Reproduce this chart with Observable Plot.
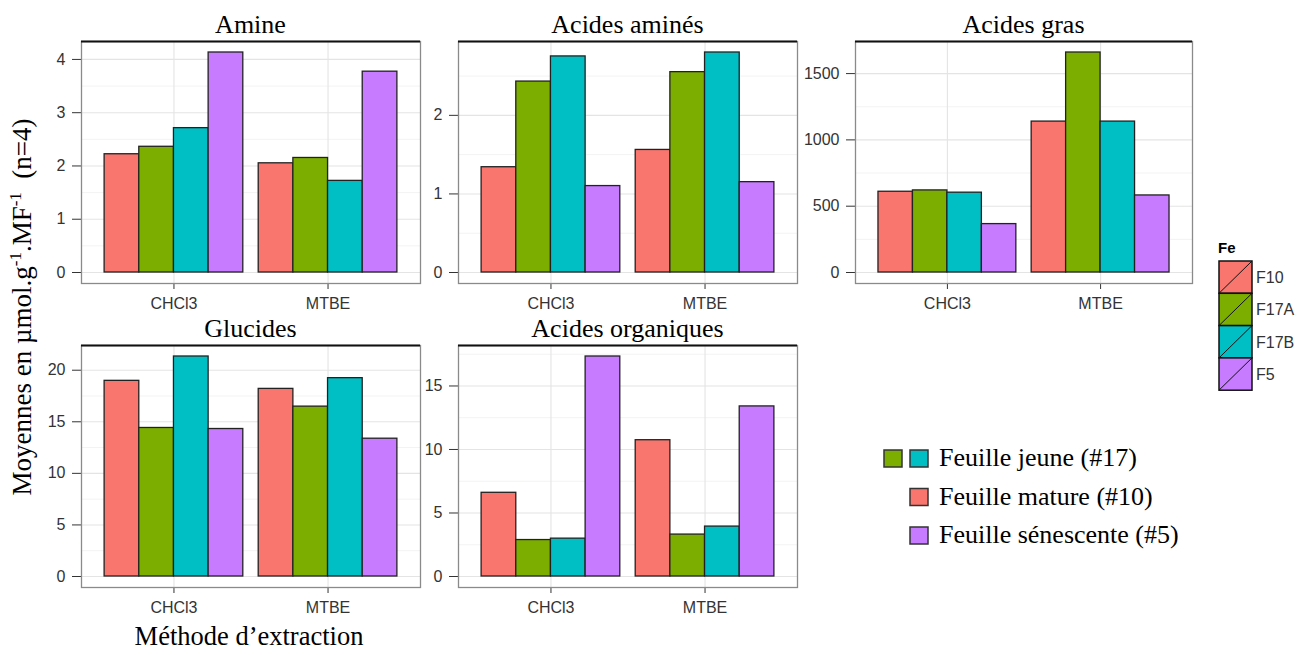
<!DOCTYPE html>
<html>
<head>
<meta charset="utf-8">
<script src="https://cdn.jsdelivr.net/npm/d3@7"></script>
<script src="https://cdn.jsdelivr.net/npm/@observablehq/plot@0.6"></script>
<style>
  html, body { margin: 0; padding: 0; background: #fff; }
  #root { position: relative; width: 1297px; height: 655px; overflow: hidden; background: #fff; }
  #root > svg { position: absolute; }
</style>
</head>
<body>
<div id="root"></div>
<script>
// ---- data ----
const methods = ["CHCl3", "MTBE"];
const groups = ["F10", "F17A", "F17B", "F5"];
const colors = ["#F8766D", "#7CAE00", "#00BFC4", "#C77CFF"];
const panelNames = ["Amine", "Acides aminés", "Acides gras", "Glucides", "Acides organiques"];
// values: CHCl3 (F10, F17A, F17B, F5), then MTBE (F10, F17A, F17B, F5)
const amine = [2.22, 2.36, 2.71, 4.13, 2.05, 2.15, 1.72, 3.77];
const acidesAmines = [1.34, 2.43, 2.75, 1.10, 1.56, 2.55, 2.80, 1.15];
const acidesGras = [609, 619, 602, 365, 1138, 1659, 1138, 581];
const glucides = [18.97, 14.4, 21.33, 14.3, 18.19, 16.47, 19.23, 13.36];
const acidesOrganiques = [6.59, 2.87, 2.98, 17.32, 10.73, 3.30, 3.93, 13.39];
// tick labels
const amineTicks = [0, 1, 2, 3, 4];
const acidesAminesTicks = [0, 1, 2];
const acidesGrasTicks = [0, 500, 1000, 1500];
const glucidesTicks = [0, 5, 10, 15, 20];
const acidesOrganiquesTicks = [0, 5, 10, 15];
// legends
const stageLabels = ["Feuille jeune (#17)", "Feuille mature (#10)", "Feuille sénescente (#5)"];
const stageGroups = [["F17A", "F17B"], ["F10"], ["F5"]];
const yTitle = ["Moyennes en µmol.g", "-1", ".MF", "-1", "\u00a0 (n=4)"];
const xTitle = "Méthode d’extraction";
const legendTitle = "Fe";

const color = d3.scaleOrdinal(groups, colors);
const root = document.getElementById("root");
const serif = "'Liberation Serif', 'Times New Roman', serif";
const sans = "'Liberation Sans', Arial, sans-serif";

const ml = 60, mt = 10, mr = 6, mb = 40;
const boxes = [
  {L: 81, T: 41, W: 339, H: 242},
  {L: 458, T: 41, W: 339, H: 242},
  {L: 855, T: 41, W: 337, H: 242},
  {L: 81, T: 345, W: 339, H: 242},
  {L: 458, T: 345, W: 339, H: 242}
];
const series = [amine, acidesAmines, acidesGras, glucides, acidesOrganiques];
const tickSets = [amineTicks, acidesAminesTicks, acidesGrasTicks, glucidesTicks, acidesOrganiquesTicks];

// overlay for titles & legends
const ov = d3.select(root).append("svg")
  .attr("width", 1297).attr("height", 655).style("left", "0px").style("top", "0px");

series.forEach((values, k) => {
  const box = boxes[k];
  const ticks = tickSets[k];
  const data = [];
  methods.forEach((m, i) => groups.forEach((g, j) => data.push({m, g, i, j, v: values[i * 4 + j]})));
  const max = d3.max(values);
  const yDomain = [-0.05 * max, 1.05 * max];
  const step = ticks[1] - ticks[0];
  const minor = d3.range(ticks[0] - step / 2, yDomain[1], step).filter(t => t >= yDomain[0] && t <= yDomain[1]);
  const plot = Plot.plot({
    width: box.W + ml + mr,
    height: box.H + mt + mb,
    marginLeft: ml, marginRight: mr, marginTop: mt, marginBottom: mb,
    style: {fontFamily: sans, fontSize: "16px", color: "#333", background: "transparent", overflow: "visible"},
    x: {domain: [0.4, 2.6], ticks: [1, 2], tickFormat: d => methods[d - 1], label: null, tickSize: 6, tickPadding: 8},
    y: {domain: yDomain, ticks: ticks, tickFormat: d => String(d), label: null, tickSize: 9, tickPadding: 7},
    color: {domain: groups, range: colors},
    marks: [
      Plot.ruleY(minor, {stroke: "#f3f3f3", strokeWidth: 1}),
      Plot.ruleY(ticks, {stroke: "#e4e4e4", strokeWidth: 1.1}),
      Plot.ruleX([1, 2], {stroke: "#e4e4e4", strokeWidth: 1.1}),
      Plot.rectY(data, {
        x1: d => d.i + 1 - 0.45 + d.j * 0.225,
        x2: d => d.i + 1 - 0.45 + (d.j + 1) * 0.225,
        y1: 0, y2: "v", fill: "g", stroke: "#222", strokeWidth: 1.3
      }),
      Plot.frame({stroke: "#8a8a8a", strokeWidth: 1.3}),
      Plot.ruleY([yDomain[1]], {stroke: "#111", strokeWidth: 1.8})
    ]
  });
  plot.style.left = (box.L - ml) + "px";
  plot.style.top = (box.T - mt) + "px";
  root.appendChild(plot);

  ov.append("text").text(panelNames[k])
    .attr("x", box.L + box.W / 2).attr("y", box.T - 8)
    .attr("text-anchor", "middle").attr("font-family", serif).attr("font-size", 26).attr("fill", "#000");
});

// y-axis title
const yt = ov.append("text").attr("transform", "translate(31,307) rotate(-90)")
  .attr("text-anchor", "middle").attr("font-family", serif).attr("font-size", 27).attr("fill", "#000");
yTitle.forEach((s, i) => {
  const sup = i % 2 === 1;
  yt.append("tspan").text(s)
    .attr("font-size", sup ? 17 : 27)
    .attr("dy", sup ? -10 : (i > 0 ? 10 : 0));
});

// x-axis title
ov.append("text").text(xTitle).attr("x", 249).attr("y", 645)
  .attr("text-anchor", "middle").attr("font-family", serif).attr("font-size", 26.5).attr("fill", "#000");

// Fe legend
ov.append("text").text(legendTitle).attr("x", 1218).attr("y", 253)
  .attr("font-family", sans).attr("font-size", 15).attr("font-weight", "bold").attr("fill", "#000");
const keyH = 32.3, keyW = 33, keyX = 1219, keyY = 261;
groups.forEach((g, i) => {
  const y = keyY + i * keyH;
  ov.append("rect").attr("x", keyX).attr("y", y).attr("width", keyW).attr("height", keyH)
    .attr("fill", color(g)).attr("stroke", "#111").attr("stroke-width", 1.5);
  ov.append("line").attr("x1", keyX).attr("y1", y + keyH).attr("x2", keyX + keyW).attr("y2", y)
    .attr("stroke", "#111").attr("stroke-width", 1);
  ov.append("text").text(g).attr("x", keyX + keyW + 4).attr("y", y + keyH / 2 + 6)
    .attr("font-family", sans).attr("font-size", 16).attr("fill", "#333");
});

// stage legend
stageLabels.forEach((lab, r) => {
  const cy = 458.5 + r * 38.5;
  const gs = stageGroups[r];
  gs.forEach((g, k) => {
    const x = 910 - (gs.length - 1 - k) * 26;
    ov.append("rect").attr("x", x).attr("y", cy - 8.5).attr("width", 18).attr("height", 17)
      .attr("fill", color(g)).attr("stroke", "#333").attr("stroke-width", 1.5);
  });
  ov.append("text").text(lab).attr("x", 939).attr("y", cy + 7.5)
    .attr("font-family", serif).attr("font-size", 26).attr("fill", "#000");
});
</script>
</body>
</html>
